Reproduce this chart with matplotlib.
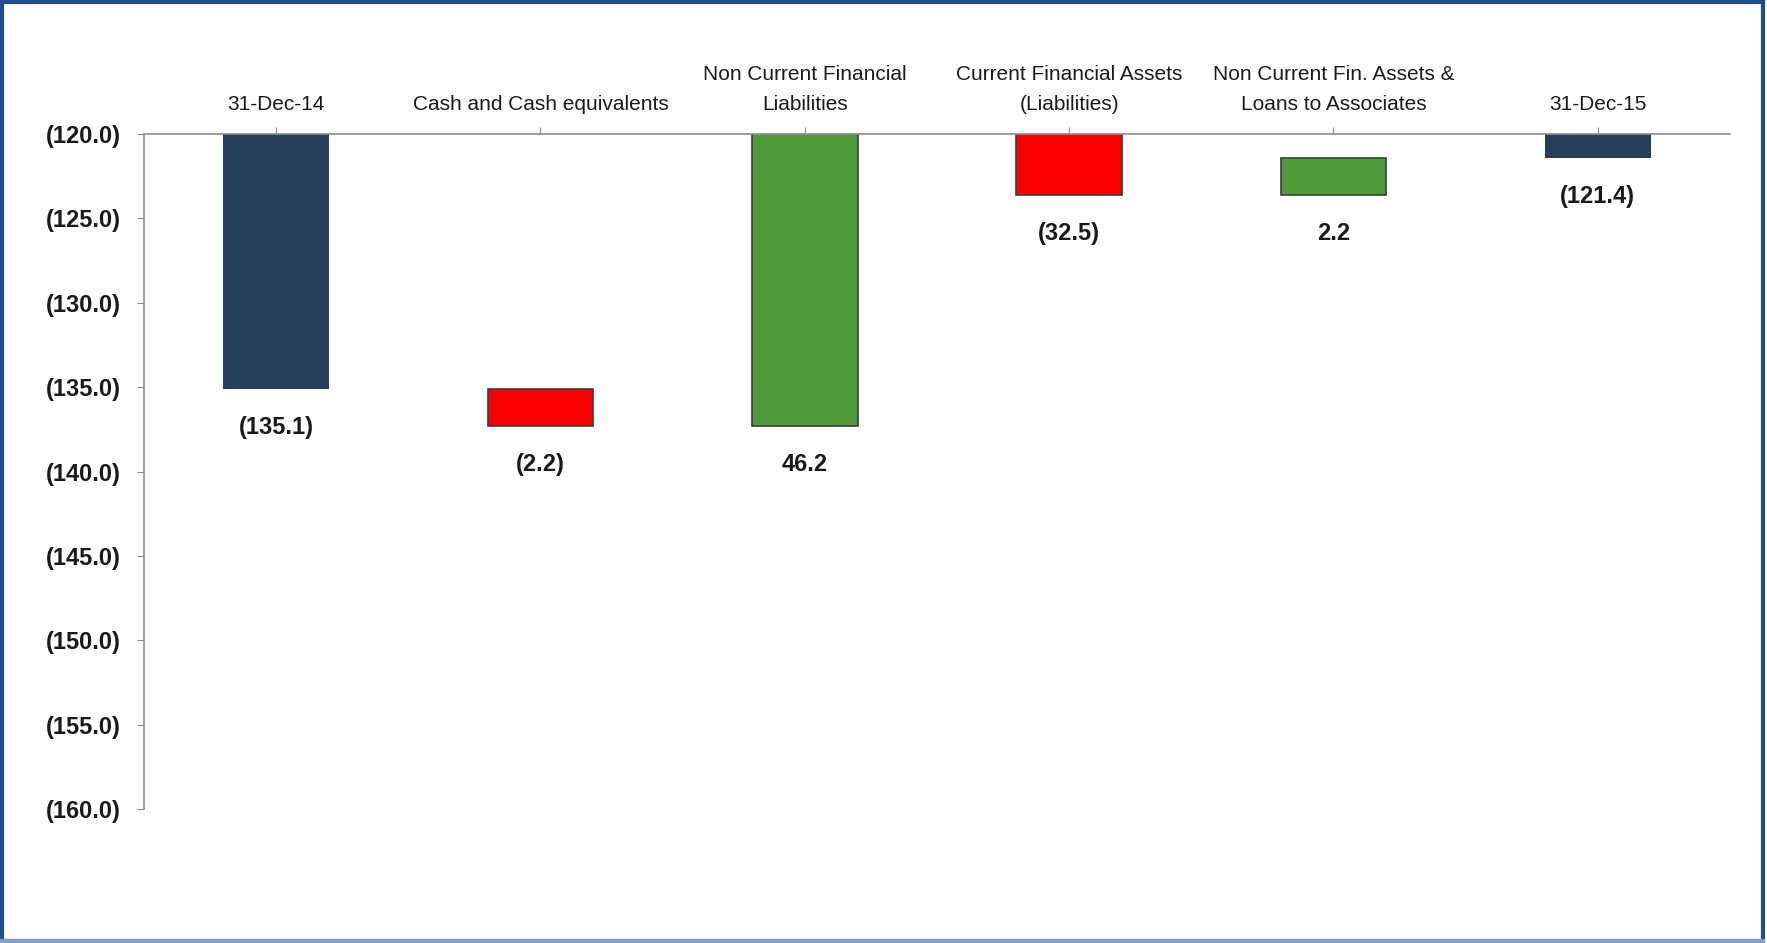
import matplotlib.pyplot as plt
from matplotlib.patches import Rectangle
from matplotlib.lines import Line2D
import numpy as np

# waterfall of net financial position, 31-Dec-14 to 31-Dec-15
categories = ['31-Dec-14', 'Cash and Cash equivalents', 'Non Current Financial\nLiabilities',
              'Current Financial Assets\n(Liabilities)', 'Non Current Fin. Assets &\nLoans to Associates',
              '31-Dec-15']
opening = -135.1
changes = [-2.2, 46.2, -32.5, 2.2]
closing = -121.4
value_labels = ['(135.1)', '(2.2)', '46.2', '(32.5)', '2.2', '(121.4)']

navy = '#253F58'
red = '#FF0000'
green = '#4F9B3A'

plt.rcParams['font.family'] = ['Liberation Sans', 'DejaVu Sans']

# bar bottoms/heights for the waterfall
bottoms = [0.0]
heights = [opening]
colors = [navy]
edges = ['none']
level = opening
for d in changes:
    bottoms.append(level)
    heights.append(d)
    colors.append(green if d > 0 else red)
    edges.append('#3B3B3B')
    level = level + d
bottoms.append(0.0)
heights.append(closing)
colors.append(navy)
edges.append('none')

fig = plt.figure(figsize=(17.67, 9.43), dpi=100)
ax = fig.add_axes([0.0815, 0.142, 0.8975, 0.716])

x = np.arange(len(categories))
ax.bar(x, heights, bottom=bottoms, width=0.4, color=colors, edgecolor=edges, linewidth=1.2)

ax.set_ylim(-160, -120)
ax.set_xlim(-0.5, len(categories) - 0.5)
ax.set_yticks(np.arange(-160, -119, 5))
ax.set_yticklabels(['({:.1f})'.format(-v) for v in np.arange(-160, -119, 5)],
                   fontsize=17, fontweight='bold', color='#1A1A1A')

ax.xaxis.tick_top()
ax.set_xticks(x)
ax.set_xticklabels(categories, fontsize=15, color='#1A1A1A', linespacing=1.75)
ax.tick_params(axis='x', length=5, color='#8C8C8C', pad=9)
ax.tick_params(axis='y', length=5, color='#8C8C8C', pad=12)

for s in ['right', 'bottom']:
    ax.spines[s].set_visible(False)
for s in ['top', 'left']:
    ax.spines[s].set_color('#8C8C8C')
    ax.spines[s].set_linewidth(1.2)

# value labels below the lower end of each bar
for i in range(len(categories)):
    low = min(bottoms[i], bottoms[i] + heights[i], -120)
    ax.annotate(value_labels[i], (x[i], low), xytext=(0, -28), textcoords='offset points',
                ha='center', va='center', fontsize=17, fontweight='bold', color='#1A1A1A')

# blue frame around the whole figure
fig.patches.append(Rectangle((0.001, 0.002), 0.997, 0.996, transform=fig.transFigure,
                             fill=False, edgecolor='#1F4E8C', linewidth=3))
fig.lines.append(Line2D([0.001, 0.998], [0.002, 0.002], transform=fig.transFigure,
                        color='#7F9FC8', linewidth=3))

plt.savefig('out.png', dpi=100)
